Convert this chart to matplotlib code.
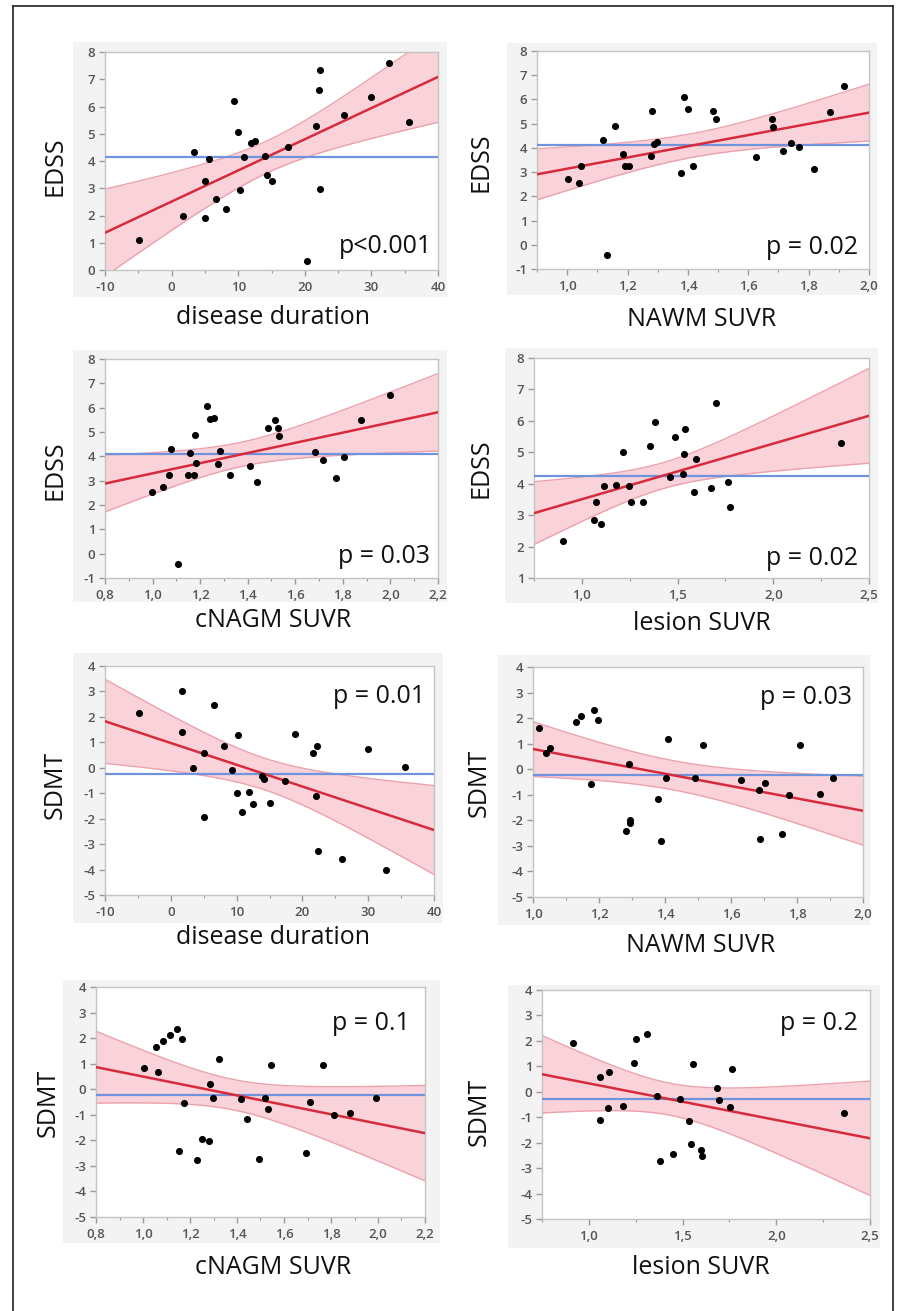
import numpy as np
import matplotlib
matplotlib.use("Agg")
import matplotlib.pyplot as plt
from matplotlib.patches import Rectangle
from matplotlib.lines import Line2D
from matplotlib.ticker import MultipleLocator, FuncFormatter

plt.rcParams['font.family'] = ['Open Sans', 'DejaVu Sans']
plt.rcParams['axes.unicode_minus'] = False

# ---------------- data ----------------
# Panel 1: EDSS vs disease duration
p1_x = [-4.85, 1.75, 3.35, 5.0, 5.05, 5.6, 6.65, 8.1, 9.35, 10.0, 10.2, 10.8, 11.85, 12.5,
        13.95, 14.25, 15.1, 17.45, 20.3, 21.65, 22.15, 22.35, 22.35, 25.85, 29.95, 32.6, 35.6]
p1_y = [1.10, 1.98, 4.34, 1.89, 3.25, 4.08, 2.61, 2.25, 6.19, 5.06, 2.94, 4.16, 4.65, 4.73,
        4.20, 3.49, 3.25, 4.53, 0.34, 5.28, 6.61, 7.34, 2.98, 5.67, 6.36, 7.58, 5.42]
# Panel 2: EDSS vs NAWM SUVR
p2_x = [1.002, 1.04, 1.047, 1.118, 1.133, 1.157, 1.185, 1.19, 1.205, 1.278, 1.28, 1.286, 1.298,
        1.378, 1.386, 1.401, 1.418, 1.482, 1.492, 1.624, 1.679, 1.682, 1.714, 1.742, 1.768,
        1.819, 1.871, 1.917]
p2_y = [2.73, 2.55, 3.25, 4.31, -0.44, 4.90, 3.75, 3.25, 3.25, 3.68, 5.53, 4.16, 4.25,
        2.96, 6.09, 5.60, 3.25, 5.53, 5.19, 3.64, 5.20, 4.87, 3.88, 4.20, 4.02,
        3.14, 5.50, 6.54]
# Panel 3: EDSS vs cNAGM SUVR
p3_x = [0.997, 1.045, 1.069, 1.076, 1.109, 1.147, 1.157, 1.174, 1.179, 1.181, 1.228, 1.242,
        1.259, 1.276, 1.284, 1.326, 1.409, 1.44, 1.486, 1.513, 1.528, 1.531, 1.683, 1.717,
        1.773, 1.806, 1.878, 1.997]
p3_y = [2.55, 2.73, 3.25, 4.30, -0.44, 3.25, 4.15, 3.25, 4.88, 3.74, 6.07, 5.52,
        5.58, 3.67, 4.23, 3.25, 3.62, 2.96, 5.18, 5.51, 5.16, 4.85, 4.18, 3.86,
        3.12, 3.99, 5.48, 6.51]
# Panel 4: EDSS vs lesion SUVR
p4_x = [0.90, 1.064, 1.074, 1.098, 1.116, 1.18, 1.215, 1.245, 1.255, 1.321, 1.354, 1.382,
        1.459, 1.487, 1.527, 1.532, 1.539, 1.586, 1.594, 1.676, 1.70, 1.763, 1.776, 2.355]
p4_y = [2.18, 2.85, 3.41, 2.71, 3.92, 3.95, 5.00, 3.92, 3.41, 3.41, 5.20, 5.97,
        4.22, 5.49, 4.31, 4.96, 5.75, 3.73, 4.79, 3.85, 6.58, 4.04, 3.26, 5.29]
# Panel 5: SDMT vs disease duration
p5_x = [-4.88, 1.70, 1.70, 3.32, 4.99, 5.05, 6.62, 8.03, 9.35, 10.01, 10.16, 10.77, 11.83,
        12.49, 13.91, 14.21, 15.07, 17.4, 18.93, 21.66, 22.12, 22.27, 22.32, 25.97, 29.92,
        32.65, 35.64]
p5_y = [2.17, 3.03, 1.39, -0.02, 0.57, -1.95, 2.47, 0.87, -0.09, -1.00, 1.29, -1.72, -0.97,
        -1.41, -0.31, -0.45, -1.37, -0.51, 1.31, 0.57, -1.10, 0.87, -3.26, -3.60, 0.72,
        -4.02, 0.04]
# Panel 6: SDMT vs NAWM SUVR
p6_x = [1.018, 1.039, 1.053, 1.129, 1.144, 1.176, 1.186, 1.198, 1.281, 1.291, 1.293, 1.293,
        1.38, 1.387, 1.402, 1.41, 1.49, 1.516, 1.63, 1.685, 1.688, 1.703, 1.754, 1.775,
        1.808, 1.871, 1.91]
p6_y = [1.63, 0.65, 0.82, 1.86, 2.10, -0.57, 2.32, 1.94, -2.43, 0.19, -1.97, -2.09,
        -1.18, -2.81, -0.34, 1.17, -0.34, 0.96, -0.42, -0.80, -2.74, -0.54, -2.52, -1.01,
        0.95, -0.96, -0.34]
# Panel 7: SDMT vs cNAGM SUVR
p7_x = [1.006, 1.057, 1.062, 1.084, 1.116, 1.143, 1.155, 1.166, 1.174, 1.23, 1.251, 1.279,
        1.287, 1.299, 1.322, 1.416, 1.443, 1.492, 1.519, 1.533, 1.546, 1.694, 1.709, 1.767,
        1.813, 1.881, 1.991]
p7_y = [0.85, 1.65, 0.68, 1.88, 2.12, 2.34, -2.40, 1.97, -0.55, -2.78, -1.95, -2.04,
        0.22, -0.33, 1.19, -0.40, -1.15, -2.72, -0.33, -0.79, 0.96, -2.50, -0.50, 0.96,
        -1.00, -0.92, -0.33]
# Panel 8: SDMT vs lesion SUVR
p8_x = [0.913, 1.061, 1.061, 1.104, 1.105, 1.183, 1.243, 1.249, 1.311, 1.361, 1.377, 1.448,
        1.484, 1.532, 1.544, 1.555, 1.596, 1.601, 1.684, 1.693, 1.755, 1.766, 2.36]
p8_y = [1.91, 0.60, -1.09, -0.62, 0.77, -0.55, 1.12, 2.06, 2.26, -0.16, -2.72, -2.44,
        -0.28, -1.14, -2.06, 1.08, -2.27, -2.53, 0.13, -0.34, -0.59, 0.90, -0.83]

x_labels = ["disease duration", "NAWM SUVR", "cNAGM SUVR", "lesion SUVR",
            "disease duration", "NAWM SUVR", "cNAGM SUVR", "lesion SUVR"]
y_labels = ["EDSS"] * 4 + ["SDMT"] * 4
p_texts = ["p<0.001", "p = 0.02", "p = 0.03", "p = 0.02",
           "p = 0.01", "p = 0.03", "p = 0.1", "p = 0.2"]
x_limits = [(-10, 40), (0.9, 2.0), (0.8, 2.2), (0.75, 2.5),
            (-10, 40), (1.0, 2.0), (0.8, 2.2), (0.75, 2.5)]
y_limits = [(0, 8), (-1, 8), (-1, 8), (1, 8), (-5, 4), (-5, 4), (-5, 4), (-5, 4)]
x_major = [10, 0.2, 0.2, 0.5, 10, 0.2, 0.2, 0.5]
x_minor = [5, 0.1, 0.1, 0.25, 5, 0.1, 0.1, 0.25]
x_decimals = [0, 1, 1, 1, 0, 1, 1, 1]

xs = [p1_x, p2_x, p3_x, p4_x, p5_x, p6_x, p7_x, p8_x]
ys = [p1_y, p2_y, p3_y, p4_y, p5_y, p6_y, p7_y, p8_y]

# ---------------- layout (pixels) ----------------
W, H = 899, 1311
axes_px = [(105, 52, 438, 270), (537, 51, 869, 269),
           (105, 359, 438, 578), (534, 358, 869, 578),
           (105, 666, 434, 895), (533, 667, 863, 897),
           (96, 987, 425, 1217), (542, 990, 870, 1219)]
bg_px = [(73, 42, 447, 297), (507, 43, 877, 295),
         (73, 350, 447, 602), (505, 348, 878, 603),
         (73, 653, 443, 923), (498, 655, 870, 925),
         (63, 980, 440, 1243), (508, 985, 880, 1248)]
xlab_px = [(273, 318), (702, 320), (273, 621), (702, 623),
           (273, 937), (701, 946), (273, 1268), (701, 1268)]
ylab_px = [(55, 166), (481, 162), (55, 470), (481, 468),
           (55, 785), (479, 783), (48, 1103), (479, 1112)]
ptxt_frac = [(0.982, 0.078), (0.967, 0.069), (0.976, 0.068), (0.967, 0.059),
             (0.973, 0.838), (0.967, 0.839), (0.954, 0.813), (0.963, 0.825)]

T_TABLE = {20: 2.086, 21: 2.080, 22: 2.074, 23: 2.069, 24: 2.064, 25: 2.060, 26: 2.056, 27: 2.052}

RED = '#d62b3c'
BLUE = '#6f93dc'
BAND = '#f9d3d9'
BAND_EDGE = '#eca2ad'
TICKC = '#555555'
SPINE = '#c4c4c4'

fig = plt.figure(figsize=(W / 100, H / 100), dpi=100)
fig.patch.set_facecolor('white')

# outer frame
for (xa, ya) in [((13, 13), (6, H)), ((13, 893), (6, 6)), ((893, 893), (6, H))]:
    fig.add_artist(Line2D([xa[0] / W, xa[1] / W], [1 - ya[0] / H, 1 - ya[1] / H],
                          transform=fig.transFigure, color='#222222', lw=1.2, zorder=-2))

for i in range(8):
    x = np.array(xs[i], dtype=float)
    y = np.array(ys[i], dtype=float)
    bx0, by0, bx1, by1 = bg_px[i]
    fig.add_artist(Rectangle((bx0 / W, 1 - by1 / H), (bx1 - bx0) / W, (by1 - by0) / H,
                             transform=fig.transFigure, facecolor='#f3f3f3',
                             edgecolor='none', zorder=-1))
    l, t, r, b = axes_px[i]
    ax = fig.add_axes([l / W, 1 - b / H, (r - l) / W, (b - t) / H])
    ax.set_facecolor('white')
    ax.set_xlim(*x_limits[i])
    ax.set_ylim(*y_limits[i])

    # regression fit with 95% confidence band
    n = len(x)
    xbar, ybar = x.mean(), y.mean()
    sxx = ((x - xbar) ** 2).sum()
    slope = ((x - xbar) * (y - ybar)).sum() / sxx
    icpt = ybar - slope * xbar
    resid = y - (icpt + slope * x)
    s = np.sqrt((resid ** 2).sum() / (n - 2))
    tval = T_TABLE.get(n - 2, 2.06)
    xx = np.linspace(x_limits[i][0], x_limits[i][1], 300)
    yy = icpt + slope * xx
    half = tval * s * np.sqrt(1.0 / n + (xx - xbar) ** 2 / sxx)
    ax.fill_between(xx, yy - half, yy + half, color=BAND, lw=0, zorder=1)
    ax.plot(xx, yy - half, color=BAND_EDGE, lw=1.0, zorder=2)
    ax.plot(xx, yy + half, color=BAND_EDGE, lw=1.0, zorder=2)
    ax.axhline(ybar, color=BLUE, lw=1.6, zorder=3)
    ax.plot(xx, yy, color=RED, lw=1.8, zorder=4)
    ax.scatter(x, y, s=26, color='black', zorder=5, linewidths=0)

    for sp in ax.spines.values():
        sp.set_color(SPINE)
        sp.set_linewidth(1.0)
    ax.xaxis.set_major_locator(MultipleLocator(x_major[i]))
    ax.xaxis.set_minor_locator(MultipleLocator(x_minor[i]))
    ax.yaxis.set_major_locator(MultipleLocator(1))
    dec = x_decimals[i]
    ax.xaxis.set_major_formatter(FuncFormatter(
        lambda v, p, d=dec: (f"{v:.{d}f}").replace('.', ',')))
    ax.yaxis.set_major_formatter(FuncFormatter(lambda v, p: f"{v:.0f}"))
    ax.tick_params(axis='both', which='major', direction='out', length=4, width=1,
                   color='#9a9a9a', labelcolor=TICKC, labelsize=9.5)
    ax.tick_params(axis='x', which='major', pad=4)
    ax.tick_params(axis='y', which='major', pad=3)
    ax.tick_params(axis='x', which='minor', direction='out', length=2.5, width=0.8,
                   color='#9a9a9a')
    for lab in ax.get_xticklabels() + ax.get_yticklabels():
        lab.set_fontweight('semibold')

    fx, fy = ptxt_frac[i]
    ax.text(fx, fy, p_texts[i], transform=ax.transAxes, ha='right', va='baseline',
            fontsize=18, color='#111111', zorder=6)

    cx, cy = xlab_px[i]
    fig.text(cx / W, 1 - cy / H, x_labels[i], ha='center', va='center',
             fontsize=18, color='#111111')
    lx, ly = ylab_px[i]
    fig.text(lx / W, 1 - ly / H, y_labels[i], ha='center', va='center', rotation=90,
             fontsize=18, color='#111111')

fig.savefig('out.png', dpi=100, facecolor='white')
